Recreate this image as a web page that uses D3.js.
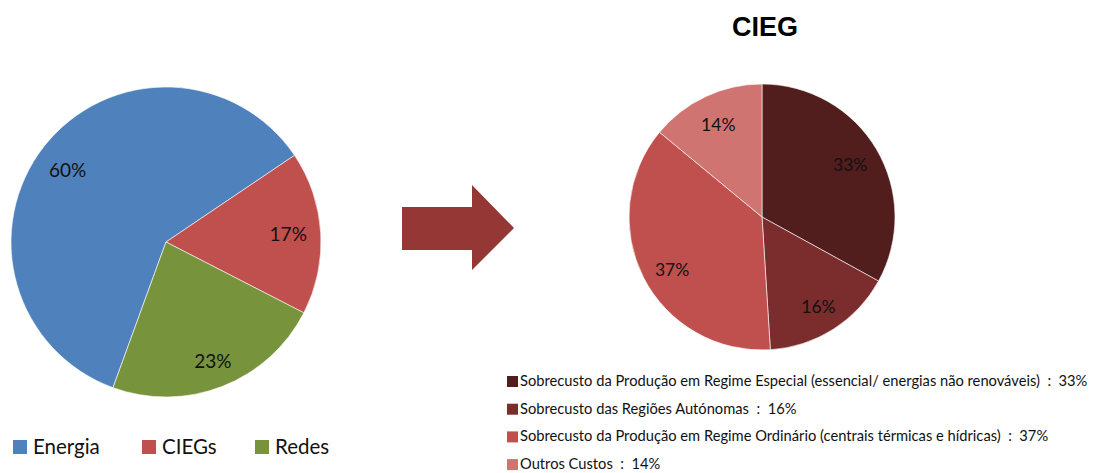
<!DOCTYPE html>
<meta charset="utf-8">
<script src="https://d3js.org/d3.v7.min.js"></script>
<style>
  body { margin: 0; background: #fff; }
  text { font-family: Lato, "Open Sans", sans-serif; }
</style>
<div id="my_dataviz"></div>
<script>

// left pie data
var mainLabels = ["Energia", "CIEGs", "Redes"];
var mainValues = [60, 17, 23];
var mainColors = ["#4f81bd", "#c0504d", "#77933c"];

// right pie data (CIEG breakdown)
var ciegLabels = [
  "Sobrecusto da Produção em Regime Especial (essencial/ energias não renováveis)",
  "Sobrecusto das Regiões Autónomas",
  "Sobrecusto da Produção em Regime Ordinário (centrais térmicas e hídricas)",
  "Outros Custos"
];
var ciegValues = [33, 16, 37, 14];
var ciegColors = ["#521d1d", "#7b2c2c", "#c0504d", "#d07471"];

var width = 1105, height = 473;

var svg = d3.select("#my_dataviz")
  .append("svg")
    .attr("width", width)
    .attr("height", height);

var deg = Math.PI / 180;

// ---- left pie
var pieLeft = d3.pie().sort(null)
  .startAngle(200 * deg)
  .endAngle(560 * deg);

var rLeft = 155;
var arcLeft = d3.arc().innerRadius(0).outerRadius(rLeft);

var gLeft = svg.append("g")
  .attr("transform", "translate(166,242)");

var leftArcs = pieLeft(mainValues);

gLeft.selectAll("path")
  .data(leftArcs)
  .enter()
  .append("path")
    .attr("d", arcLeft)
    .style("fill", function(d, i) { return mainColors[i]; })
    .style("stroke", "#ffffff")
    .style("stroke-width", 0.6);

// label placement (radius fraction, angle override)
var leftLabelR = [0.785, 0.79, 0.83];
var leftLabelA = [306, null, null];
gLeft.selectAll("text")
  .data(leftArcs)
  .enter()
  .append("text")
    .attr("transform", function(d, i) {
      var a = leftLabelA[i] != null ? leftLabelA[i] * deg : (d.startAngle + d.endAngle) / 2;
      var rr = rLeft * leftLabelR[i];
      return "translate(" + (Math.sin(a) * rr) + "," + (-Math.cos(a) * rr) + ")";
    })
    .attr("text-anchor", "middle")
    .attr("dy", "0.35em")
    .style("font-size", "19px")
    .style("fill", "#111")
    .text(function(d) { return d.data + "%"; });

// left legend
var legLeft = svg.append("g")
  .selectAll("g")
  .data(mainLabels)
  .enter()
  .append("g")
    .attr("transform", function(d, i) { return "translate(" + [13, 142, 255][i] + ",440)"; });

legLeft.append("rect")
  .attr("width", 14)
  .attr("height", 14)
  .style("fill", function(d, i) { return mainColors[i]; });

legLeft.append("text")
  .attr("x", 20)
  .attr("y", 14)
  .style("font-size", "20.5px")
  .style("fill", "#111")
  .text(function(d) { return d; });

// ---- arrow
svg.append("path")
  .attr("d", "M402,207 L472,207 L472,185 L514,228 L472,270 L472,250 L402,250 Z")
  .style("fill", "#953735");

// ---- right pie
svg.append("text")
  .attr("x", 765)
  .attr("y", 36)
  .attr("text-anchor", "middle")
  .style("font-family", "'Liberation Sans', Arial, sans-serif")
  .style("font-weight", "bold")
  .style("font-size", "27px")
  .style("fill", "#000")
  .text("CIEG");

var rRight = 133;
var pieRight = d3.pie().sort(null);
var arcRight = d3.arc().innerRadius(0).outerRadius(rRight);

var gRight = svg.append("g")
  .attr("transform", "translate(762,217)");

var rightArcs = pieRight(ciegValues);

gRight.selectAll("path")
  .data(rightArcs)
  .enter()
  .append("path")
    .attr("d", arcRight)
    .style("fill", function(d, i) { return ciegColors[i]; })
    .style("stroke", "#ffffff")
    .style("stroke-width", 0.6);

var rightLabelR = [0.77, 0.8, 0.785, 0.77];
var rightLabelA = [null, 148, 239.5, 334.7];
gRight.selectAll("text")
  .data(rightArcs)
  .enter()
  .append("text")
    .attr("transform", function(d, i) {
      var a = rightLabelA[i] != null ? rightLabelA[i] * deg : (d.startAngle + d.endAngle) / 2;
      var rr = rRight * rightLabelR[i];
      return "translate(" + (Math.sin(a) * rr) + "," + (-Math.cos(a) * rr) + ")";
    })
    .attr("text-anchor", "middle")
    .attr("dy", "0.35em")
    .style("font-size", "17.5px")
    .style("fill", "#111")
    .text(function(d) { return d.data + "%"; });

// right legend
var legRight = svg.append("g")
  .selectAll("g")
  .data(ciegLabels)
  .enter()
  .append("g")
    .attr("transform", function(d, i) { return "translate(507," + (376 + i * 27.7) + ")"; });

legRight.append("rect")
  .attr("width", 11)
  .attr("height", 11)
  .style("fill", function(d, i) { return ciegColors[i]; });

legRight.append("text")
  .attr("x", 13)
  .attr("y", 10)
  .style("font-size", "14.7px")
  .style("white-space", "pre")
  .style("fill", "#111")
  .text(function(d, i) { return d + "  :  " + ciegValues[i] + "%"; });

</script>
